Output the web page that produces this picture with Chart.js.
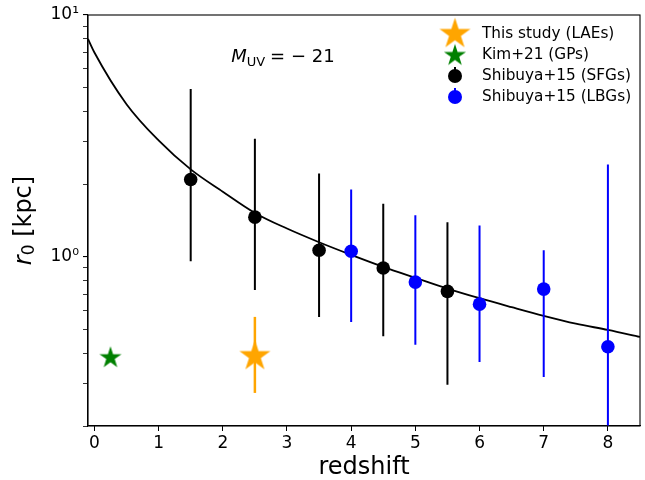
<!DOCTYPE html>
<html>
<head>
<title>r0 vs redshift</title>
<script src="https://cdn.jsdelivr.net/npm/chart.js"></script>
<style>
    body { margin: 0; background: #fff; }
    #chartContainer { width: 645px; height: 480px; }
</style>
</head>
<body>
<div id="chartContainer">
    <canvas id="myChart"></canvas>
</div>

<script>
// model curve
var curveZ = [-0.1, 0, 0.5, 1, 1.5, 2, 2.5, 3, 3.5, 4, 4.5, 5, 5.5, 6, 6.5, 7, 7.5, 8, 8.5];
var curveR = [7.96, 7.0, 4.28, 3.03, 2.3, 1.86, 1.52, 1.31, 1.15, 1.02, 0.91, 0.82, 0.74, 0.675, 0.62, 0.571, 0.53, 0.499, 0.467];

// Shibuya+15 (SFGs)
var sfgZ = [1.5, 2.5, 3.5, 4.5, 5.5];
var sfgR = [2.09, 1.46, 1.066, 0.90, 0.72];
var sfgLo = [0.96, 0.73, 0.565, 0.47, 0.296];
var sfgHi = [4.95, 3.08, 2.21, 1.66, 1.39];

// Shibuya+15 (LBGs)
var lbgZ = [4, 5, 6, 7, 8];
var lbgR = [1.056, 0.787, 0.638, 0.736, 0.425];
var lbgLo = [0.538, 0.433, 0.368, 0.319, 0.1];
var lbgHi = [1.90, 1.485, 1.35, 1.066, 2.41];

// This study (LAEs)
var laeZ = [2.5];
var laeR = [0.389];
var laeLo = [0.274];
var laeHi = [0.565];

// Kim+21 (GPs)
var gpZ = [0.25];
var gpR = [0.383];

var xTicks = [0, 1, 2, 3, 4, 5, 6, 7, 8];
var yTicks = [0.2, 0.3, 0.4, 0.5, 0.6, 0.7, 0.8, 0.9, 1, 2, 3, 4, 5, 6, 7, 8, 9, 10];
var yLabels = { 1: '10\u2070', 10: '10\u00b9' };

var FONT = '"DejaVu Sans", sans-serif';

function starCanvas(R, color) {
    var c = document.createElement('canvas');
    var s = Math.ceil(2 * R + 2);
    c.width = s; c.height = s;
    var g = c.getContext('2d');
    g.fillStyle = color;
    g.beginPath();
    for (var i = 0; i < 10; i++) {
        var r = (i % 2 === 0) ? R : R * 0.382;
        var a = -Math.PI / 2 + i * Math.PI / 5;
        var px = s / 2 + r * Math.cos(a), py = s / 2 + r * Math.sin(a);
        if (i === 0) g.moveTo(px, py); else g.lineTo(px, py);
    }
    g.closePath();
    g.fill();
    return c;
}

var orangeStar = starCanvas(16.3, '#ffa500');
var greenStar = starCanvas(11.6, '#008000');

function pts(z, r) {
    return z.map(function (v, i) { return { x: v, y: r[i] }; });
}

function errSegs(z, lo, hi) {
    var out = [];
    z.forEach(function (v, i) {
        out.push({ x: v, y: lo[i] }, { x: v, y: hi[i] }, { x: v, y: null });
    });
    return out;
}

var extras = {
    id: 'extras',
    afterDraw: function (chart) {
        var ctx = chart.ctx, a = chart.chartArea;
        ctx.save();
        // frame
        ctx.strokeStyle = '#000';
        ctx.lineWidth = 1.1;
        ctx.strokeRect(a.left, a.top, a.right - a.left, a.bottom - a.top);

        // M_UV annotation
        var x = chart.scales.x.getPixelForValue(2.13);
        var y = a.top + 47;
        ctx.fillStyle = '#000';
        ctx.textBaseline = 'alphabetic';
        ctx.textAlign = 'left';
        ctx.font = 'italic 18px ' + FONT;
        ctx.fillText('M', x, y);
        x += ctx.measureText('M').width;
        ctx.font = '13px ' + FONT;
        ctx.fillText('UV', x, y + 4);
        x += ctx.measureText('UV').width + 5;
        ctx.font = '18px ' + FONT;
        ctx.fillText('= \u2212 21', x, y);

        // y axis title
        ctx.translate(25, (a.top + a.bottom) / 2);
        ctx.rotate(-Math.PI / 2);
        ctx.font = 'italic 24px ' + FONT;
        var w1 = ctx.measureText('r').width;
        ctx.font = '17px ' + FONT;
        var w2 = ctx.measureText('0').width;
        ctx.font = '24px ' + FONT;
        var w3 = ctx.measureText(' [kpc]').width;
        var sx = -(w1 + w2 + w3) / 2;
        ctx.textBaseline = 'middle';
        ctx.font = 'italic 24px ' + FONT;
        ctx.fillText('r', sx, 0);
        ctx.font = '17px ' + FONT;
        ctx.fillText('0', sx + w1, 5);
        ctx.font = '24px ' + FONT;
        ctx.fillText(' [kpc]', sx + w1 + w2, 0);
        ctx.setTransform(1, 0, 0, 1, 0, 0);

        // legend
        var mx = a.right - 185, tx = a.right - 158;
        var rows = [
            { img: orangeStar, label: 'This study (LAEs)', y: a.top + 19 },
            { img: greenStar, label: 'Kim+21 (GPs)', y: a.top + 40.5 },
            { color: '#000', label: 'Shibuya+15 (SFGs)', y: a.top + 61 },
            { color: '#0000ff', label: 'Shibuya+15 (LBGs)', y: a.top + 82 }
        ];
        ctx.font = '15.3px ' + FONT;
        ctx.textBaseline = 'middle';
        rows.forEach(function (r) {
            if (r.img) {
                ctx.drawImage(r.img, mx - r.img.width / 2, r.y - r.img.height / 2);
            } else {
                ctx.fillStyle = r.color;
                ctx.fillRect(mx - 1, r.y - 9, 2, 6);
                ctx.beginPath();
                ctx.arc(mx, r.y, 7, 0, Math.PI * 2);
                ctx.fill();
            }
            ctx.fillStyle = '#000';
            ctx.fillText(r.label, tx, r.y);
        });
        ctx.restore();
    }
};

var ctx = document.getElementById('myChart').getContext('2d');

var chart = new Chart(ctx, {
    type: 'scatter',
    data: {
        datasets: [
            {
                label: 'This study (LAEs)',
                data: pts(laeZ, laeR),
                pointStyle: orangeStar,
                order: 0
            },
            {
                label: 'Kim+21 (GPs)',
                data: pts(gpZ, gpR),
                pointStyle: greenStar,
                order: 0
            },
            {
                label: 'Shibuya+15 (SFGs)',
                data: pts(sfgZ, sfgR),
                pointRadius: 6.8,
                backgroundColor: '#000',
                borderWidth: 0,
                order: 1
            },
            {
                label: 'Shibuya+15 (LBGs)',
                data: pts(lbgZ, lbgR),
                pointRadius: 6.8,
                backgroundColor: '#0000ff',
                borderWidth: 0,
                order: 1
            },
            {
                type: 'line',
                data: errSegs(laeZ, laeLo, laeHi),
                borderColor: '#ffa500',
                borderWidth: 2.5,
                pointRadius: 0,
                spanGaps: false,
                order: 2
            },
            {
                type: 'line',
                data: errSegs(sfgZ, sfgLo, sfgHi),
                borderColor: '#000',
                borderWidth: 2,
                pointRadius: 0,
                spanGaps: false,
                order: 2
            },
            {
                type: 'line',
                data: errSegs(lbgZ, lbgLo, lbgHi),
                borderColor: '#0000ff',
                borderWidth: 2,
                pointRadius: 0,
                spanGaps: false,
                clip: 0,
                order: 2
            },
            {
                type: 'line',
                data: pts(curveZ, curveR),
                borderColor: '#000',
                borderWidth: 1.8,
                pointRadius: 0,
                cubicInterpolationMode: 'monotone',
                order: 3
            }
        ]
    },
    options: {
        responsive: true,
        maintainAspectRatio: false,
        animation: false,
        layout: { autoPadding: false, padding: { left: 0, top: 15, right: 5, bottom: 0 } },
        plugins: {
            legend: { display: false },
            tooltip: { enabled: false }
        },
        scales: {
            x: {
                type: 'linear',
                min: -0.1,
                max: 8.5,
                afterBuildTicks: function (s) {
                    s.ticks = xTicks.map(function (v) { return { value: v }; });
                },
                afterFit: function (s) {
                    s.height = 54;
                    s.paddingLeft = 0;
                    s.paddingRight = 0;
                },
                ticks: {
                    color: '#000',
                    font: { family: FONT, size: 17 },
                    padding: 2,
                    maxRotation: 0
                },
                grid: { drawOnChartArea: false, tickLength: 5, color: '#000' },
                border: { color: '#000', width: 1.1 },
                title: {
                    display: true,
                    text: 'redshift',
                    color: '#000',
                    font: { family: FONT, size: 24, lineHeight: 1 },
                    padding: { top: 4, bottom: 0 }
                }
            },
            y: {
                type: 'logarithmic',
                min: 0.2,
                max: 10,
                afterBuildTicks: function (s) {
                    s.ticks = yTicks.map(function (v) { return { value: v, major: !!yLabels[v] }; });
                },
                afterFit: function (s) { s.width = 88; },
                ticks: {
                    color: '#000',
                    font: { family: FONT, size: 17 },
                    padding: 4,
                    autoSkip: false,
                    callback: function (v) { return yLabels[v] || ''; }
                },
                grid: {
                    drawOnChartArea: false,
                    tickLength: 5,
                    color: '#000',
                    lineWidth: function (c) { return c.tick && c.tick.major ? 1.1 : 0.8; }
                },
                border: { color: '#000', width: 1.1 }
            }
        }
    },
    plugins: [extras]
});
</script>
</body>
</html>
